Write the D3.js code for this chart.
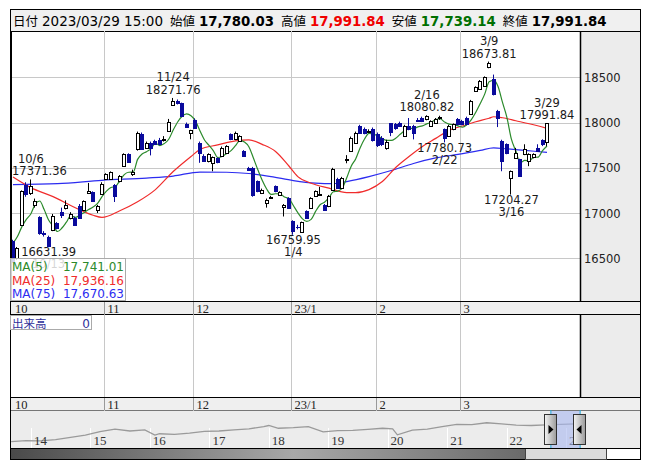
<!DOCTYPE html>
<html>
<head>
<meta charset="utf-8">
<script src="https://cdn.jsdelivr.net/npm/d3@7"></script>
<style>
  body { margin: 0; background: #fff; }
  svg { display: block; }
  text { font-family: "DejaVu Sans", sans-serif; }
</style>
</head>
<body>
<svg width="653" height="470"></svg>
<script>
// ---- data ----
var dates = ["9/30","10/3","10/4","10/5","10/6","10/7","10/11","10/12","10/13","10/14","10/17","10/18","10/19","10/20","10/21","10/24","10/25","10/26","10/27","10/28","10/31",
  "11/1","11/2","11/4","11/7","11/8","11/9","11/10","11/11","11/14","11/15","11/16","11/17","11/18","11/21","11/22","11/24","11/25","11/28","11/29","11/30",
  "12/1","12/2","12/5","12/6","12/7","12/8","12/9","12/12","12/13","12/14","12/15","12/16","12/19","12/20","12/21","12/22","12/23","12/26","12/27","12/28","12/29","12/30",
  "1/4","1/5","1/6","1/10","1/11","1/12","1/13","1/16","1/17","1/18","1/19","1/20","1/23","1/24","1/25","1/26","1/27","1/30","1/31",
  "2/1","2/2","2/3","2/6","2/7","2/8","2/9","2/10","2/13","2/14","2/15","2/16","2/17","2/20","2/21","2/22","2/24","2/27","2/28",
  "3/1","3/2","3/3","3/6","3/7","3/8","3/9","3/10","3/13","3/14","3/15","3/16","3/17","3/20","3/22","3/23","3/24","3/27","3/28","3/29"];

var opens = [16690,16500,16870,17307,17222,17085,16951,16780,16740,16815,
  16889,17010,17055,16945,16945,17073,17036,17222,17233,17037,
  17211,17378,17378,17314,17351,17518,17648,17430,17703,17878,
  17722,17778,17796,17803,17810,17907,18196,18240,18211,17989,
  17889,18030,17778,17632,17574,17555,17603,17629,17667,17870,
  17814,17796,17685,17500,17500,17351,17222,17111,17170,17296,
  17203,17067,17166,16907,16850,16796,17018,17055,17192,17203,
  17092,17074,17259,17380,17277,17585,17685,17778,17963,17933,
  17900,17930,17870,17830,17720,17990,17980,17999,17851,17963,
  17963,18033,18055,18037,17963,18000,18050,17926,17851,17926,
  18037,18018,18055,18092,18351,18370,18407,18610,18480,18130,
  17796,17759,17389,17611,17592,17648,17574,17614,17722,17803,
  17780.03];

var highs = [16705,16625,17250,17340,17371.36,17160,16965,16800,16750,16990,
  16900,17060,17140,17010,16960,17100,17140,17333,17240,17090,
  17340,17440,17460,17320,17420,17660,17660,17480,17900,17890,
  17790,17790,17810,17830,17850,18040,18271.76,18255,18220,18000,
  17920,18045,17790,17650,17660,17625,17615,17735,17750,17880,
  17900,17860,17695,17510,17510,17360,17270,17160,17190,17305,
  17240,17100,17175,16920,16870,16905,17030,17175,17250,17289,
  17100,17200,17500,17390,17400,17640,17845,17900,17975,17945,
  17925,17945,17890,17850,17810,17990,17995,18010,17975,18050,
  17975,18050,18065,18080.82,18025,18050,18075,17935,17975,17990,
  18050,18030,18065,18250,18400,18470,18510,18673.81,18530,18140,
  17810,17770,17470,17720,17600,17760,17660,17660,17760,17815,
  17991.84];

var lows = [16450,16480,16860,17180,17200,17060,16760,16740,16631.39,16800,
  16820,16945,17040,16930,16860,16940,17030,17210,17130,17000,
  17200,17370,17370,17122,17340,17510,17560,17410,17690,17700,
  17710,17637,17760,17750,17790,17900,18190,18200,18060,17940,
  17815,17930,17555,17570,17560,17462,17550,17620,17655,17805,
  17805,17785,17620,17470,17180,17230,17210,17060,17160,17230,
  17195,16962,17050,16759.95,16820,16780,16935,17045,17180,17195,
  17030,17065,17250,17270,17265,17550,17675,17765,17880,17870,
  17885,17790,17730,17740,17700,17850,17920,17955,17840,17915,
  17814,18010,18005,18025,17955,17990,18030,17780.73,17840,17915,
  17970,17970,17970,18085,18340,18360,18400,18600,18300,17950,
  17462,17650,17204.27,17600,17400,17640,17518,17605,17680,17740,
  17739.14];

var closes = [16470,16610,17240,17214,17296,17137,16778,16770,16635,16963,
  16833,16975,17092,16992,16870,16950,17129,17248,17137,17073,
  17322,17433,17451,17184,17407,17648,17567,17455,17889,17703,
  17778,17722,17767,17759,17815,18011,18233,18211,18073,17951,
  17914,17940,17667,17580,17648,17614,17562,17722,17740,17814,
  17889,17851,17629,17481,17203,17240,17259,17148,17180,17240,
  17229,17092,17055,16800,16845,16896,16944,17166,17240,17214,
  17037,17192,17490,17277,17390,17600,17833,17889,17889,17881,
  17907,17810,17750,17760,17790,17900,17935,17963,17963,17926,
  17889,18018,18018,18074,18018,18044,18058,17833,17963,17981,
  17981,17981,17981,18240,18388,18462,18500,18660,18320,18055,
  17574,17667,17462,17667,17407,17703,17648,17648,17685,17759,
  17991.84];

var ma5 = [16667,16740,16850,16930,16990,17099,17133,17039,16923,16857,
  16796,16835,16900,16971,16952,16976,17007,17038,17067,17107,
  17182,17243,17283,17293,17359,17425,17451,17452,17593,17652,
  17678,17709,17772,17746,17768,17815,17917,18006,18069,18096,
  18076,18018,17909,17810,17750,17690,17614,17625,17657,17690,
  17745,17803,17785,17733,17611,17481,17362,17266,17206,17213,
  17211,17178,17159,17083,17004,16938,16908,16930,17018,17092,
  17120,17170,17235,17242,17277,17390,17518,17598,17720,17818,
  17880,17875,17847,17822,17803,17802,17827,17870,17910,17937,
  17935,17952,17963,17985,18003,18034,18042,18005,17983,17976,
  17963,17948,17977,18033,18114,18210,18314,18450,18466,18399,
  18222,18055,17816,17685,17555,17581,17577,17615,17618,17689,
  17741.01];

var ma25Dates = ["9/30","10/6","10/14","10/21","10/27","10/31","11/7","11/11","11/17","11/24","11/30","12/2","12/8","12/14","12/19","12/22","12/27","12/30","1/5","1/11","1/17","1/23","1/25","1/30","2/2","2/7","2/10","2/15","2/20","2/24","3/1","3/6","3/9","3/10","3/14","3/17","3/23","3/29"];
var ma25Values = [17398,17281,17181,17059,16976,16953,17026,17125,17259,17459,17625,17703,17753,17798,17809,17759,17681,17520,17403,17330,17275,17225,17225,17259,17348,17503,17625,17736,17825,17914,17962,18009,18048,18064,18053,18020,17987,17936.16];

var ma75Dates = ["9/30","10/17","10/31","11/15","11/24","12/2","12/12","12/19","12/26","1/4","1/12","1/18","1/23","1/30","2/6","2/13","2/20","2/28","3/7","3/10","3/15","3/22","3/29"];
var ma75Values = [17314,17325,17362,17387,17409,17453,17451,17437,17403,17359,17331,17325,17348,17403,17470,17548,17609,17648,17692,17720,17709,17692,17670.63];

var yTicks = [16500, 17000, 17500, 18000, 18500];
var monthStarts = ["11/1","12/1","1/4","2/1","3/1"];
var monthLabels = ["10","11","12","23/1","2","3"];

var annoDates  = ["10/6","10/13","11/24","1/4","2/16","2/22","3/9","3/16","3/29"];
var annoValues = [17371.36,16631.39,18271.76,16759.95,18080.82,17780.73,18673.81,17204.27,17991.84];
var annoSides  = ["high","low","high","low","high","low","high","low","high"];

var maNames  = ["MA(5)","MA(25)","MA(75)"];
var maColors = ["#2b8a2b","#f02c2c","#2c2cf0"];

var headerLabels = ["日付","始値","高値","安値","終値"];
var headerColors = ["#000","#000","#f00000","#007000","#000"];

var navDates = ["2013-09","2013-12","2014-03","2014-06","2014-09","2014-12","2015-03","2015-06","2015-09","2015-12","2016-02","2016-03","2016-06","2016-09","2016-12",
  "2017-03","2017-06","2017-09","2017-12","2018-01","2018-03","2018-06","2018-09","2018-12","2019-03","2019-06","2019-09","2019-12","2020-02","2020-03",
  "2020-06","2020-09","2020-12","2021-03","2021-06","2021-09","2021-12","2022-03","2022-06","2022-09","2022-12","2023-03"];
var navValues = [11100,11500,11400,11900,12700,13500,14800,15700,15000,15400,13500,14000,13800,14200,14900,
  15000,15400,15800,16600,17000,16000,16200,16600,14700,15100,15200,15600,16000,15800,13600,
  15300,15700,16600,17400,17300,18000,17600,17100,17000,17200,17400,17600];
var navYears = ["14","15","16","17","18","19","20","21","22","23"];

// ---- layout ----
var svg = d3.select("svg");
var L = 11, R = 580, T = 31, B = 301;
var last = dates.length - 1;

var x = d3.scaleLinear().domain([0, 120]).range([13, 547]);
var y = d3.scaleLinear().domain([16500, 18500]).range([258.3, 77.3]);
var xi = function(d) { return x(dates.indexOf(d)); };
var monthX = monthStarts.map(function(d) { return Math.round(xi(d)) - 1.5; });
var fmt2 = d3.format(",.2f");

// frame background
svg.append("rect").attr("x", 10.5).attr("y", 9.5).attr("width", 630).attr("height", 450)
  .attr("fill", "#fff").attr("stroke", "#000");

// right axis panel
svg.append("rect").attr("x", R).attr("y", T).attr("width", 60).attr("height", 366).attr("fill", "#ececec");

// header
svg.append("rect").attr("x", 10.5).attr("y", 9.5).attr("width", 630).attr("height", 22)
  .attr("fill", "#f0f0f0").attr("stroke", "#000");
var headerValues = ["2023/03/29 15:00", fmt2(opens[last]), fmt2(highs[last]), fmt2(lows[last]), fmt2(closes[last])];
var ht = svg.append("text").attr("x", 13).attr("y", 25.5);
headerLabels.forEach(function(lab, i) {
  ht.append("tspan").attr("dx", i ? 7 : 0)
    .style("font-family", "'Noto Sans CJK JP'").style("font-size", "12.5px").text(lab);
  ht.append("tspan").attr("dx", 4)
    .style("font-size", i ? "13.3px" : "13.5px").style("font-weight", i ? "bold" : "normal")
    .attr("fill", headerColors[i]).text(headerValues[i]);
});

// main plot gridlines
var grid = svg.append("g").attr("stroke", "#c8c8c8").attr("stroke-width", 1);
grid.selectAll("line.h").data(yTicks).join("line")
  .attr("x1", L).attr("x2", R)
  .attr("y1", function(d) { return Math.round(y(d)) + 0.5; })
  .attr("y2", function(d) { return Math.round(y(d)) + 0.5; });
grid.selectAll("line.v").data(monthX).join("line")
  .attr("x1", function(d) { return d; }).attr("x2", function(d) { return d; })
  .attr("y1", T).attr("y2", B);
grid.selectAll("line.vv").data(monthX).join("line")
  .attr("x1", function(d) { return d; }).attr("x2", function(d) { return d; })
  .attr("y1", 315).attr("y2", 397);

// y axis labels
svg.append("g").selectAll("text").data(yTicks).join("text")
  .attr("x", 584).attr("y", function(d) { return y(d) + 4.5; })
  .style("font-size", "11.5px").attr("fill", "#222").text(function(d) { return d; });

// clip
svg.append("clipPath").attr("id", "clip").append("rect")
  .attr("x", L).attr("y", T).attr("width", R - L).attr("height", B - T);
var plot = svg.append("g").attr("clip-path", "url(#clip)");

// moving averages
var line = d3.line().curve(d3.curveMonotoneX);
plot.append("path")
  .attr("d", line(ma75Dates.map(function(d, i) { return [xi(d), y(ma75Values[i])]; })))
  .attr("fill", "none").attr("stroke", maColors[2]).attr("stroke-width", 1.2);
plot.append("path")
  .attr("d", line(ma25Dates.map(function(d, i) { return [xi(d), y(ma25Values[i])]; })))
  .attr("fill", "none").attr("stroke", maColors[1]).attr("stroke-width", 1.2);
plot.append("path")
  .attr("d", line(ma5.map(function(v, i) { return [x(i), y(v)]; })))
  .attr("fill", "none").attr("stroke", maColors[0]).attr("stroke-width", 1.2);

// candles
var idx = d3.range(dates.length);
var down = "#0a0a9c";
var cx = function(i) { return Math.round(x(i)); };
plot.selectAll("line.wick").data(idx).join("line")
  .attr("x1", function(i) { return cx(i) - 0.5; }).attr("x2", function(i) { return cx(i) - 0.5; })
  .attr("y1", function(i) { return y(highs[i]); }).attr("y2", function(i) { return y(lows[i]); })
  .attr("stroke", function(i) { return closes[i] >= opens[i] ? "#000" : down; });
plot.selectAll("rect.body").data(idx).join("rect")
  .attr("x", function(i) { return cx(i) - 1.5; }).attr("width", 3)
  .attr("y", function(i) { return Math.round(y(Math.max(opens[i], closes[i]))) + 0.5; })
  .attr("height", function(i) {
    return Math.max(0.01, Math.round(y(Math.min(opens[i], closes[i]))) - Math.round(y(Math.max(opens[i], closes[i]))));
  })
  .attr("fill", function(i) { return closes[i] >= opens[i] ? "#fff" : down; })
  .attr("stroke", function(i) { return closes[i] >= opens[i] ? "#000" : down; });

// high / low annotations
var ann = svg.append("g").attr("fill", "#1a1a1a").style("font-size", "11.5px").attr("text-anchor", "middle");
annoDates.forEach(function(d, k) {
  var px = xi(d), py = y(annoValues[k]);
  var rows = annoSides[k] === "high"
    ? [[d, py - 16.5], [annoValues[k].toFixed(2), py - 4]]
    : [[annoValues[k].toFixed(2), py + 9.5], [d, py + 21.5]];
  rows.forEach(function(r) {
    var t = ann.append("text").attr("x", px).attr("y", r[1]).text(r[0]);
    var w = t.node().getComputedTextLength();
    if (px - w / 2 < L + 1) t.attr("x", L + 1 + w / 2);
  });
});

// plot borders
svg.append("line").attr("x1", 11).attr("x2", 11).attr("y1", T).attr("y2", B).attr("stroke", "#000").attr("stroke-width", 2);
svg.append("line").attr("x1", R + 0.5).attr("x2", R + 0.5).attr("y1", T).attr("y2", 397).attr("stroke", "#000").attr("stroke-width", 1.5);

// MA legend box
var lg = svg.append("g");
lg.append("rect").attr("x", 10.5).attr("y", 258.5).attr("width", 115).attr("height", 42)
  .attr("fill", "#fff").attr("fill-opacity", 0.82).attr("stroke", "#aaa");
var maLast = [ma5[last], ma25Values[ma25Values.length - 1], ma75Values[ma75Values.length - 1]];
maNames.forEach(function(n, i) {
  lg.append("text").attr("x", 12).attr("y", 271 + i * 13.5).attr("fill", maColors[i])
    .style("font-size", "12px").text(n);
  lg.append("text").attr("x", 124).attr("y", 271 + i * 13.5).attr("fill", maColors[i])
    .attr("text-anchor", "end").style("font-size", "12px").text(fmt2(maLast[i]));
});

// x-axis strips
function strip(y0) {
  var g = svg.append("g");
  g.append("rect").attr("x", 10.5).attr("y", y0 + 0.5).attr("width", 630).attr("height", 13)
    .attr("fill", "#efefef").attr("stroke", "#000");
  g.selectAll("line").data(monthX).join("line")
    .attr("x1", function(d) { return d; }).attr("x2", function(d) { return d; })
    .attr("y1", y0 + 1).attr("y2", y0 + 14).attr("stroke", "#999");
  g.selectAll("text").data(monthLabels).join("text")
    .attr("x", function(d, i) { return i === 0 ? 15 : monthX[i - 1] + 3; })
    .attr("y", y0 + 11.5)
    .style("font-family", "'Liberation Serif', serif").style("font-size", "12.5px").attr("fill", "#222")
    .text(function(d) { return d; });
}
strip(301);
strip(397);

// volume label
svg.append("rect").attr("x", 10.5).attr("y", 315.5).attr("width", 81).attr("height", 14)
  .attr("fill", "#fff").attr("stroke", "#aaa");
svg.append("text").attr("x", 12).attr("y", 327.5).attr("fill", "#30309a")
  .style("font-family", "'Noto Sans CJK JP'").style("font-size", "11.5px").text("出来高");
svg.append("text").attr("x", 90).attr("y", 327.5).attr("fill", "#30309a").attr("text-anchor", "end")
  .style("font-size", "12px").text("0");

// navigator
var parseM = d3.timeParse("%Y-%m");
var nx = d3.scaleTime().domain([new Date(2014, 0, 1), new Date(2023, 0, 1)]).range([31, 566]);
var ny = d3.scaleLinear().domain([11000, 19000]).range([442, 420]);
var nav = svg.append("g");
nav.append("rect").attr("x", 11).attr("y", 410.5).attr("width", 629).attr("height", 37.5).attr("fill", "#ececec");
nav.selectAll("line").data(navYears).join("line")
  .attr("x1", function(d, i) { return Math.round(nx(new Date(2014 + i, 0, 1))) + 0.5; })
  .attr("x2", function(d, i) { return Math.round(nx(new Date(2014 + i, 0, 1))) + 0.5; })
  .attr("y1", 428).attr("y2", 448).attr("stroke", "#fff");
nav.append("path")
  .attr("d", d3.line()(navDates.map(function(d, i) { return [nx(parseM(d)), ny(navValues[i])]; })))
  .attr("fill", "none").attr("stroke", "#9a9a9a").attr("stroke-width", 1.3);
nav.selectAll("text").data(navYears).join("text")
  .attr("x", function(d, i) { return nx(new Date(2014 + i, 0, 1)) + 3; })
  .attr("y", 445)
  .style("font-family", "'Liberation Serif', serif").style("font-size", "13px").attr("fill", "#333")
  .text(function(d) { return d; });
var s0 = nx(new Date(2022, 8, 30)), s1 = nx(new Date(2023, 2, 29));
nav.append("rect").attr("x", s0).attr("y", 411).attr("width", s1 - s0).attr("height", 37)
  .attr("fill", "#a8b8f0").attr("fill-opacity", 0.6);
[s0, s1].forEach(function(sx) {
  nav.append("line").attr("x1", sx).attr("x2", sx).attr("y1", 410).attr("y2", 448).attr("stroke", "#22aadd");
});

var defs = svg.append("defs");
var hg = defs.append("linearGradient").attr("id", "hg");
hg.append("stop").attr("offset", "0%").attr("stop-color", "#f4f4f4");
hg.append("stop").attr("offset", "100%").attr("stop-color", "#9a9a9a");
var sg = defs.append("linearGradient").attr("id", "sg");
sg.append("stop").attr("offset", "0%").attr("stop-color", "#4a4a4a");
sg.append("stop").attr("offset", "55%").attr("stop-color", "#a8a8a8");
sg.append("stop").attr("offset", "100%").attr("stop-color", "#6a6a6a");

[[s0, -1], [s1, 1]].forEach(function(h) {
  var hx = Math.round(h[0]);
  nav.append("rect").attr("x", hx - 6.5).attr("y", 414.5).attr("width", 12).attr("height", 30)
    .attr("fill", "url(#hg)").attr("stroke", "#333");
  nav.append("path").attr("transform", "translate(" + (hx - 0.5) + ",429.5) scale(" + (-h[1]) + ",1)")
    .attr("d", "M3,0 L-2,-4.5 L-2,4.5 Z").attr("fill", "#000");
});

// scrollbar
svg.append("rect").attr("x", 10.5).attr("y", 448.5).attr("width", 630).attr("height", 11)
  .attr("fill", "#fff").attr("stroke", "#000");
svg.append("rect").attr("x", 10.5).attr("y", 448.5).attr("width", 515).attr("height", 11)
  .attr("fill", "url(#sg)").attr("stroke", "#000");
svg.append("rect").attr("x", 525.5).attr("y", 448.5).attr("width", 81).attr("height", 11)
  .attr("fill", "#dcdcdc").attr("stroke", "#444");
svg.append("line").attr("x1", 10).attr("x2", 641).attr("y1", 448.5).attr("y2", 448.5).attr("stroke", "#000");
</script>
</body>
</html>
